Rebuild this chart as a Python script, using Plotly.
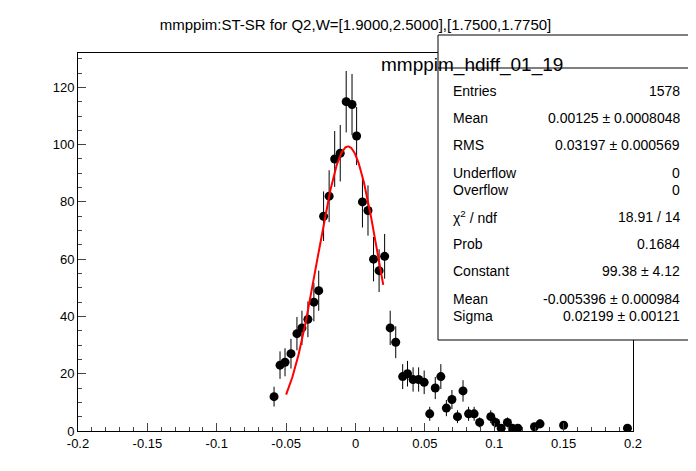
import numpy as np
import plotly.graph_objects as go

xs = [-0.0587, -0.0544, -0.0508, -0.0465, -0.0422, -0.0386, -0.0343, -0.0300, -0.0265, -0.0230,
      -0.0190, -0.0150, -0.0110, -0.0067, -0.0025, 0.0008, 0.0050, 0.0090, 0.0130, 0.0170,
      0.0210, 0.0250, 0.0290, 0.0340, 0.0375, 0.0415, 0.0455, 0.0495, 0.0535, 0.0575,
      0.0615, 0.0655, 0.0695, 0.0735, 0.0775, 0.0815, 0.0855, 0.0895, 0.0975, 0.1010,
      0.1050, 0.1095, 0.1130, 0.1170, 0.1290, 0.1330, 0.1500, 0.1960]
ys = [12, 23, 24, 27, 34, 36, 39, 45, 49, 75,
      82, 95, 97, 115, 114, 103, 80, 77, 60, 56,
      61, 36, 31, 19, 20, 18, 18, 17, 6, 15,
      19, 8, 11, 5, 14, 6, 6, 3, 5, 3,
      1, 3, 1, 1, 1.5, 2.5, 2, 1]

const, mean, sigma = 99.38, -0.005396, 0.02199
fx = np.linspace(-0.05, 0.02, 200)
fy = const * np.exp(-0.5 * ((fx - mean) / sigma) ** 2)

fig = go.Figure()
fig.add_trace(go.Scatter(x=xs, y=ys, mode="markers",
                         marker=dict(color="black", size=9),
                         error_y=dict(type="data", array=list(np.sqrt(ys)), color="black", thickness=1, width=0)))
fig.add_trace(go.Scatter(x=fx, y=fy, mode="lines", line=dict(color="red", width=2)))

fig.update_layout(
    width=696, height=471, showlegend=False,
    plot_bgcolor="white", paper_bgcolor="white",
    margin=dict(l=70, r=71, t=45, b=48, autoexpand=False),
    font=dict(family="Liberation Sans, Arial", size=13, color="black"),
    title=dict(text="mmppim:ST-SR for Q2,W=[1.9000,2.5000],[1.7500,1.7750]", x=0.5, xref="paper",
               y=0.975, yref="container", font=dict(size=15)),
)
fig.update_xaxes(range=[-0.2, 0.2], showgrid=False, zeroline=False, showline=True, automargin=False,
                 linecolor="black", mirror=True, ticks="inside", ticklen=8, minor=dict(ticks="inside", ticklen=4, dtick=0.01),
                 tickvals=[-0.2, -0.15, -0.1, -0.05, 0, 0.05, 0.1, 0.15, 0.2],
                 ticktext=["-0.2", "-0.15", "-0.1", "-0.05", "0", "0.05", "0.1", "0.15", "0.2"])
fig.update_yaxes(range=[0, 132], dtick=20, showgrid=False, zeroline=False, showline=True, automargin=False,
                 linecolor="black", mirror=True, ticks="inside", ticklen=8, minor=dict(ticks="inside", ticklen=4, dtick=5))


def px(x):
    return (x - 70) / 555


def py(y):
    return (423 - y) / 378


fig.add_shape(type="rect", xref="paper", yref="paper", x0=px(430), x1=px(684), y0=py(332), y1=py(27),
              line=dict(color="black", width=1), fillcolor="white", layer="above")
fig.add_shape(type="line", xref="paper", yref="paper", x0=px(430), x1=px(684), y0=py(60), y1=py(60),
              line=dict(color="black", width=1), layer="above")
fig.add_annotation(text="mmppim_hdiff_01_19", xref="paper", yref="paper", x=px(557), y=py(44),
                   showarrow=False, font=dict(size=19))
rows = [("Entries", "1578"), ("Mean", "0.00125 ± 0.0008048"), ("RMS", "0.03197 ± 0.000569"),
        ("Underflow", "0"), ("Overflow", "0"), ("χ<sup>2</sup> / ndf", "18.91 / 14"), ("Prob", "0.1684"),
        ("Constant", "99.38 ± 4.12"), ("Mean", "-0.005396 ± 0.000984"), ("Sigma", "0.02199 ± 0.00121")]
for i, (k, v) in enumerate(rows):
    yy = py(73 + i * 27.2)
    fig.add_annotation(text=k, xref="paper", yref="paper", x=px(443), y=yy, xanchor="left",
                       showarrow=False, font=dict(size=14))
    fig.add_annotation(text=v, xref="paper", yref="paper", x=px(674), y=yy, xanchor="right",
                       showarrow=False, font=dict(size=14))

fig.write_html("out.html")
